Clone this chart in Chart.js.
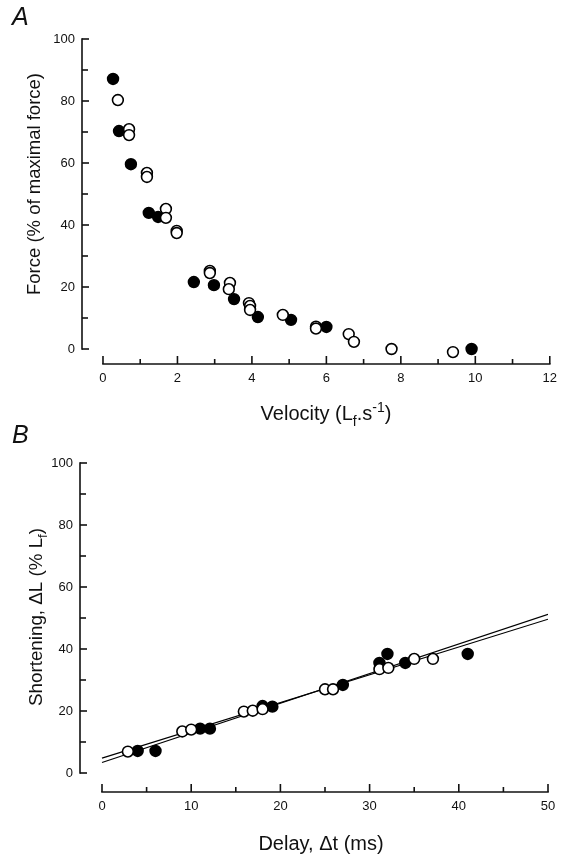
<!DOCTYPE html>
<html><head><meta charset="utf-8">
<script src="https://cdn.jsdelivr.net/npm/chart.js@4.4.0/dist/chart.umd.min.js"></script>
<style>
html,body{margin:0;padding:0;background:#fff;}
#wrap{position:relative;width:564px;height:863px;}
canvas{display:block;position:absolute;left:0;}
#cA{top:0;}
#cB{top:420px;}
</style></head><body>
<div id="wrap">
<canvas id="cA" width="564" height="440"></canvas>
<canvas id="cB" width="564" height="443"></canvas>
</div>
<script>
// ---------- Panel A data: velocity (Lf/s) vs force (% of maximal force)
const velocityFilledA = [0.27,0.43,0.75,1.23,1.48,2.44,2.98,3.52,4.16,5.05,6.0,9.9];
const forceFilledA    = [87.1,70.3,59.6,43.9,42.6,21.6,20.6,16.1,10.3,9.4,7.1,0.0];
const velocityOpenA   = [0.4,0.7,0.7,1.18,1.18,1.69,1.69,1.98,1.98,2.87,2.87,3.41,3.38,3.92,3.95,3.95,4.83,5.72,5.72,6.6,6.74,7.75,9.4];
const forceOpenA      = [80.3,70.9,69.0,56.8,55.5,45.2,42.3,38.1,37.4,25.2,24.5,21.3,19.3,14.8,13.9,12.6,11.0,7.2,6.6,4.8,2.3,0.0,-1.0];
const xTicksA = [0,2,4,6,8,10,12];
const yTicksA = [0,20,40,60,80,100];

// ---------- Panel B data: delay (ms) vs shortening (% Lf)
const delayFilledB   = [4.0,6.0,11.0,12.1,18.0,19.1,27.0,31.1,32.0,34.0,41.0];
const shortFilledB   = [7.1,7.1,14.3,14.3,21.6,21.4,28.4,35.5,38.4,35.5,38.4];
const delayOpenB     = [2.9,9.0,10.0,15.9,16.9,18.0,25.0,25.9,31.1,32.1,35.0,37.1];
const shortOpenB     = [6.9,13.4,14.0,19.8,20.1,20.6,27.0,27.0,33.5,33.9,36.8,36.8];
const fitLineX       = [0,50];
const fitLine1Y      = [4.8,49.6];
const fitLine2Y      = [3.4,51.2];
const xTicksB = [0,10,20,30,40,50];
const yTicksB = [0,20,40,60,80,100];

const FONT = '"Liberation Sans", Arial, Helvetica, sans-serif';
const pts = (xs, ys) => xs.map((x,i)=>({x, y: ys[i]}));

function drawRich(ctx, segs, cx, cy, size, rot){
  ctx.save();
  ctx.translate(cx, cy);
  if (rot) ctx.rotate(rot);
  let w = 0;
  segs.forEach(s => { ctx.font = `${(s.s||1)*size}px ${FONT}`; s.w = ctx.measureText(s.t).width; w += s.w; });
  let x = -w/2;
  ctx.fillStyle = '#111';
  ctx.textBaseline = 'alphabetic';
  ctx.textAlign = 'left';
  segs.forEach(s => { ctx.font = `${(s.s||1)*size}px ${FONT}`; ctx.fillText(s.t, x, size*0.36 + (s.dy||0)*size); x += s.w; });
  ctx.restore();
}

const axesPlugin = {
  id: 'detachedAxes',
  afterDraw(chart, args, o){
    const ctx = chart.ctx, xs = chart.scales.x, ys = chart.scales.y;
    const L = chart.chartArea.left, B = chart.chartArea.bottom;
    ctx.save();
    ctx.strokeStyle = '#111';
    ctx.lineWidth = 1.6;
    ctx.beginPath();
    ctx.moveTo(L, ys.getPixelForValue(o.yRange[0]) + 0.8);
    ctx.lineTo(L, ys.getPixelForValue(o.yRange[1]) - 0.8);
    ctx.stroke();
    for (let v = o.yRange[0]; v <= o.yRange[1] + 1e-9; v += o.yMinor){
      const p = ys.getPixelForValue(v);
      const major = Math.abs((v / o.yMajor) - Math.round(v / o.yMajor)) < 1e-6;
      ctx.beginPath(); ctx.moveTo(L, p); ctx.lineTo(L + (major ? 7 : 6), p); ctx.stroke();
    }
    ctx.beginPath();
    ctx.moveTo(xs.getPixelForValue(o.xRange[0]) - 0.8, B);
    ctx.lineTo(xs.getPixelForValue(o.xRange[1]) + 0.8, B);
    ctx.stroke();
    for (let v = o.xRange[0]; v <= o.xRange[1] + 1e-9; v += o.xMinor){
      const p = xs.getPixelForValue(v);
      const major = Math.abs((v / o.xMajor) - Math.round(v / o.xMajor)) < 1e-6;
      ctx.beginPath(); ctx.moveTo(p, B); ctx.lineTo(p, B - (major ? 8 : 5)); ctx.stroke();
    }
    ctx.restore();
  }
};

const titlePlugin = {
  id: 'panelTitles',
  afterDraw(chart, args, o){
    const ctx = chart.ctx;
    ctx.save();
    ctx.font = `italic 25px ${FONT}`;
    ctx.fillStyle = '#111';
    ctx.textBaseline = 'alphabetic';
    ctx.fillText(o.letter, 12, o.letterY);
    ctx.restore();
    drawRich(ctx, o.xTitle, o.xPos[0], o.xPos[1], o.xSize, 0);
    drawRich(ctx, o.yTitle, o.yPos[0], o.yPos[1], o.ySize, -Math.PI/2);
  }
};

function scaleOpts(min, max, ticks, fitKey, fitVal){
  return {
    type: 'linear', min, max,
    afterBuildTicks: s => { s.ticks = ticks.map(v => ({value: v})); },
    afterFit: s => { s[fitKey] = fitVal; },
    grid: {display: false, drawTicks: false},
    border: {display: false},
    ticks: {padding: 7, autoSkip: false, maxRotation: 0, color: '#111', font: {family: FONT, size: 13}}
  };
}

const openStyle   = {pointRadius: 5.4, pointHoverRadius: 5.4, backgroundColor: '#fff', borderColor: '#000', borderWidth: 1.6, showLine: false};
const filledStyle = {pointRadius: 5.4, pointHoverRadius: 5.4, backgroundColor: '#000', borderColor: '#000', borderWidth: 1.6, showLine: false};

// ---------- Chart A
new Chart(document.getElementById('cA'), {
  type: 'scatter',
  data: {datasets: [
    Object.assign({label: 'open', data: pts(velocityOpenA, forceOpenA), order: 1}, openStyle),
    Object.assign({label: 'filled', data: pts(velocityFilledA, forceFilledA), order: 2}, filledStyle)
  ]},
  options: {
    responsive: false, animation: false,
    layout: {padding: {top: 39, right: 14, bottom: 0, left: 0}},
    plugins: {
      legend: {display: false}, tooltip: {enabled: false},
      detachedAxes: {xRange: [0,12], xMajor: 2, xMinor: 1, yRange: [0,100], yMajor: 20, yMinor: 10},
      panelTitles: {
        letter: 'A', letterY: 25, xSize: 20, ySize: 18.5,
        xTitle: [{t: 'Velocity (L'}, {t: 'f', s: 0.7, dy: 0.28}, {t: '.s'}, {t: '-1', s: 0.7, dy: -0.42}, {t: ')'}],
        xPos: [326, 413],
        yTitle: [{t: 'Force (% of maximal force)'}],
        yPos: [33, 184]
      }
    },
    scales: {
      x: scaleOpts(-21/37.25, 12, xTicksA, 'height', 76),
      y: scaleOpts(-15/3.1, 100, yTicksA, 'width', 82)
    }
  },
  plugins: [axesPlugin, titlePlugin]
});

// ---------- Chart B
new Chart(document.getElementById('cB'), {
  type: 'scatter',
  data: {datasets: [
    Object.assign({label: 'open', data: pts(delayOpenB, shortOpenB), order: 1}, openStyle),
    Object.assign({label: 'filled', data: pts(delayFilledB, shortFilledB), order: 2}, filledStyle),
    {label: 'fit 1', data: pts(fitLineX, fitLine1Y), showLine: true, pointRadius: 0, borderColor: '#000', borderWidth: 1.2, order: 3},
    {label: 'fit 2', data: pts(fitLineX, fitLine2Y), showLine: true, pointRadius: 0, borderColor: '#000', borderWidth: 1.2, order: 4}
  ]},
  options: {
    responsive: false, animation: false,
    layout: {padding: {top: 43, right: 16, bottom: 0, left: 0}},
    plugins: {
      legend: {display: false}, tooltip: {enabled: false},
      detachedAxes: {xRange: [0,50], xMajor: 10, xMinor: 5, yRange: [0,100], yMajor: 20, yMinor: 10},
      panelTitles: {
        letter: 'B', letterY: 23, xSize: 20, ySize: 18.8,
        xTitle: [{t: 'Delay, \u0394t (ms)'}],
        xPos: [321, 423],
        yTitle: [{t: 'Shortening, \u0394L (% L'}, {t: 'f', s: 0.7, dy: 0.28}, {t: ')'}],
        yPos: [35, 197]
      }
    },
    scales: {
      x: scaleOpts(-22/8.92, 50, xTicksB, 'height', 71),
      y: scaleOpts(-19/3.1, 100, yTicksB, 'width', 80)
    }
  },
  plugins: [axesPlugin, titlePlugin]
});
</script>
</body></html>
